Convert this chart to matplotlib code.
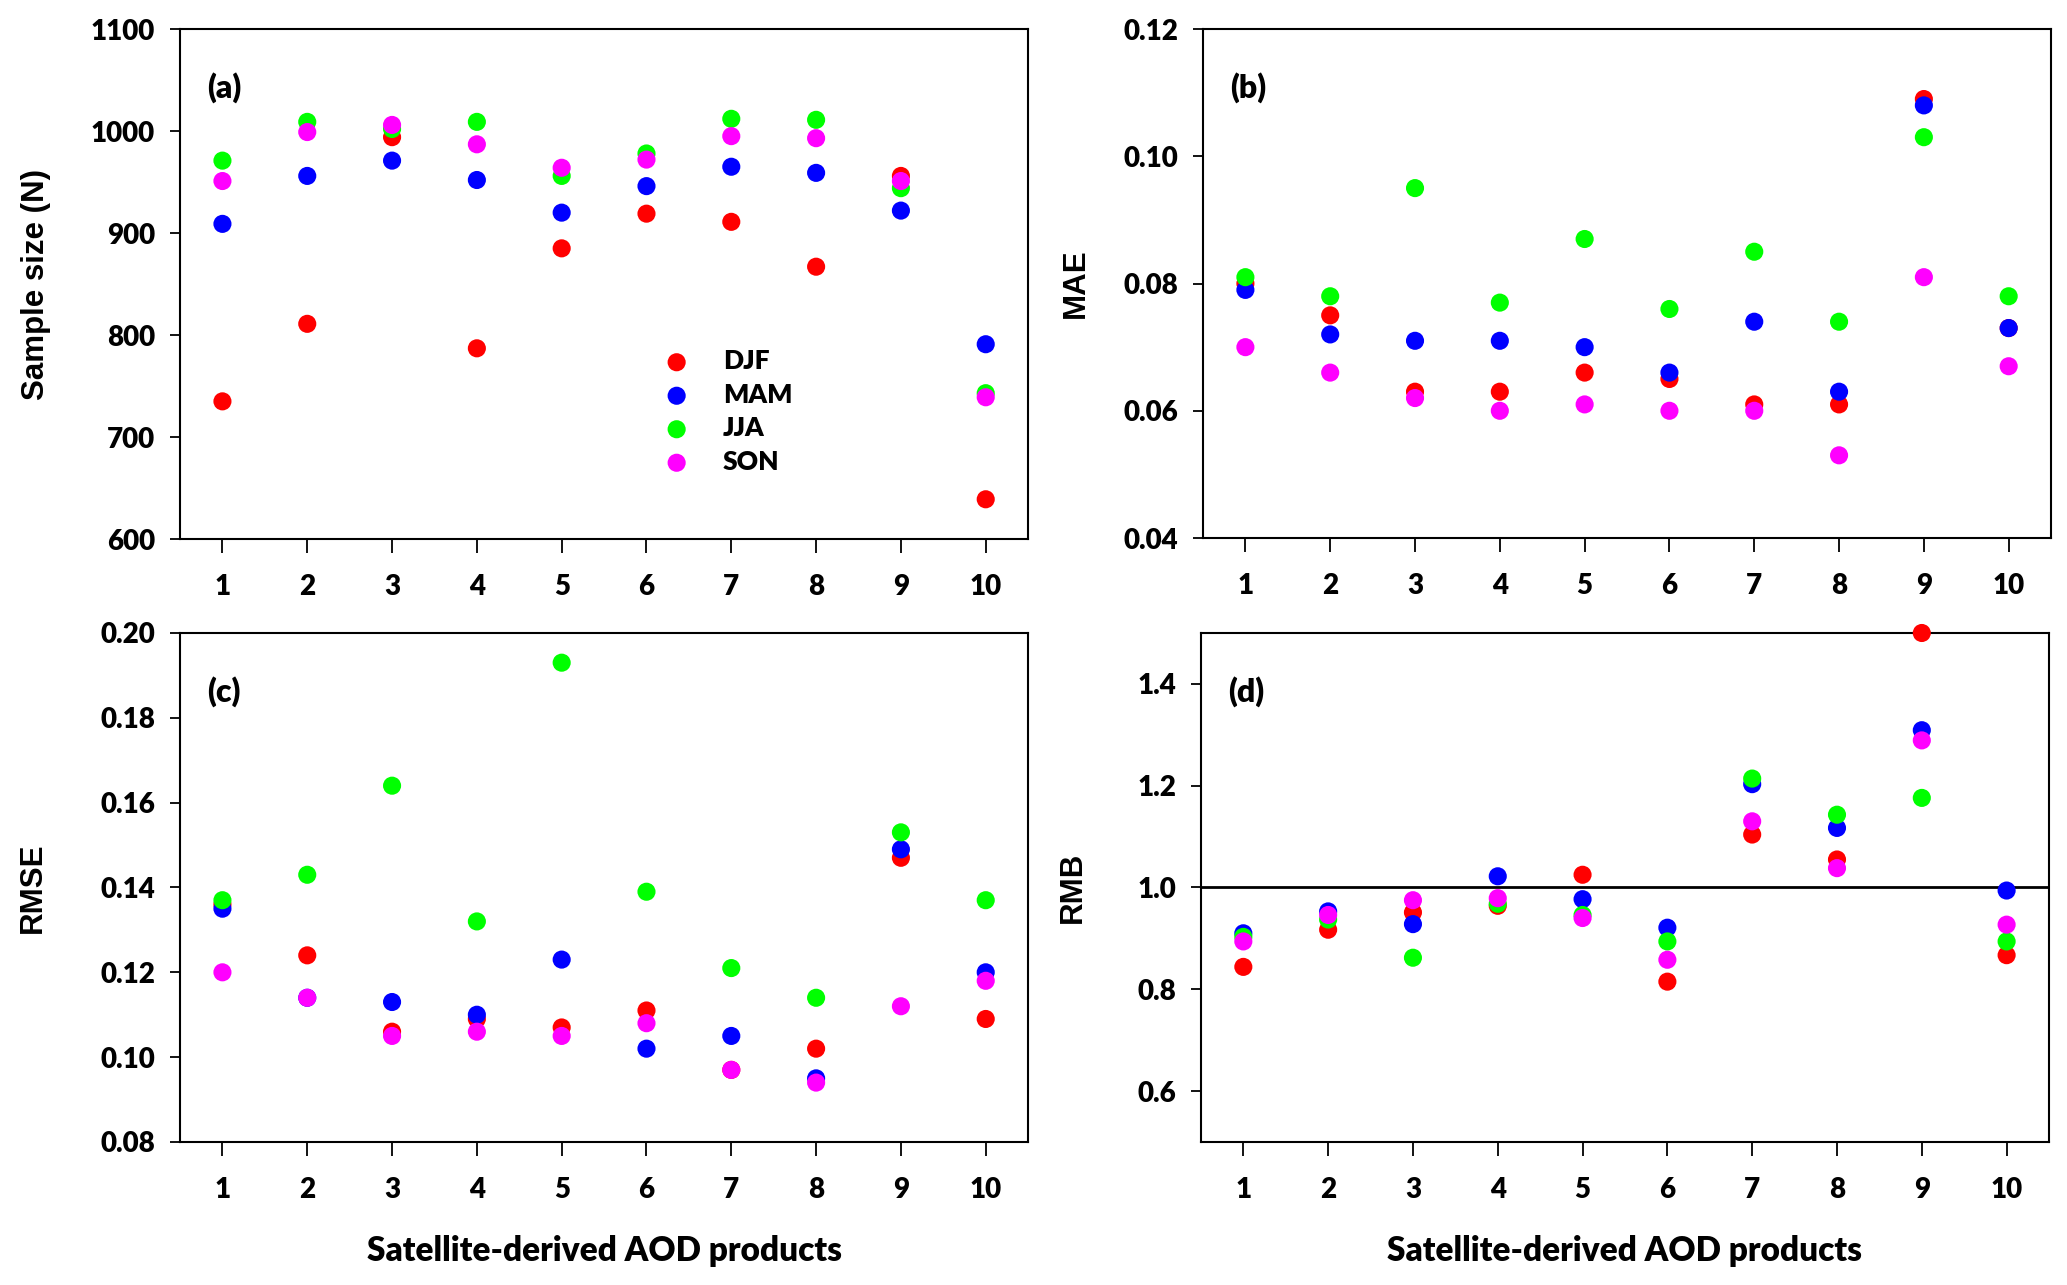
import matplotlib
matplotlib.use("Agg")
import matplotlib.pyplot as plt
import numpy as np

products = [1, 2, 3, 4, 5, 6, 7, 8, 9, 10]
seasons = ["DJF", "MAM", "JJA", "SON"]
season_colors = ["#FF0000", "#0000FF", "#00FF00", "#FF00FF"]

# (a) Sample size
n_djf = [735, 811, 994, 787, 885, 919, 911, 867, 956, 639]
n_mam = [909, 956, 971, 952, 920, 946, 965, 959, 922, 791]
n_jja = [971, 1009, 1002, 1009, 956, 978, 1012, 1011, 944, 743]
n_son = [951, 999, 1006, 987, 964, 972, 995, 993, 951, 739]

# (b) MAE
mae_djf = [0.080, 0.075, 0.063, 0.063, 0.066, 0.065, 0.061, 0.061, 0.109, 0.073]
mae_mam = [0.079, 0.072, 0.071, 0.071, 0.070, 0.066, 0.074, 0.063, 0.108, 0.073]
mae_jja = [0.081, 0.078, 0.095, 0.077, 0.087, 0.076, 0.085, 0.074, 0.103, 0.078]
mae_son = [0.070, 0.066, 0.062, 0.060, 0.061, 0.060, 0.060, 0.053, 0.081, 0.067]

# (c) RMSE
rmse_djf = [0.136, 0.124, 0.106, 0.109, 0.107, 0.111, 0.097, 0.102, 0.147, 0.109]
rmse_mam = [0.135, 0.114, 0.113, 0.110, 0.123, 0.102, 0.105, 0.095, 0.149, 0.120]
rmse_jja = [0.137, 0.143, 0.164, 0.132, 0.193, 0.139, 0.121, 0.114, 0.153, 0.137]
rmse_son = [0.120, 0.114, 0.105, 0.106, 0.105, 0.108, 0.097, 0.094, 0.112, 0.118]

# (d) RMB
rmb_djf = [0.844, 0.917, 0.951, 0.964, 1.025, 0.815, 1.104, 1.055, 1.500, 0.867]
rmb_mam = [0.910, 0.953, 0.928, 1.022, 0.977, 0.921, 1.203, 1.117, 1.309, 0.994]
rmb_jja = [0.903, 0.937, 0.862, 0.968, 0.946, 0.894, 1.214, 1.143, 1.176, 0.894]
rmb_son = [0.894, 0.946, 0.975, 0.979, 0.940, 0.858, 1.130, 1.038, 1.289, 0.927]

panels = [
    ("(a)", "Sample size (N)", [n_djf, n_mam, n_jja, n_son], (600, 1100), [600, 700, 800, 900, 1000, 1100], "{:.0f}"),
    ("(b)", "MAE", [mae_djf, mae_mam, mae_jja, mae_son], (0.04, 0.12), [0.04, 0.06, 0.08, 0.10, 0.12], "{:.2f}"),
    ("(c)", "RMSE", [rmse_djf, rmse_mam, rmse_jja, rmse_son], (0.08, 0.20), [0.08, 0.10, 0.12, 0.14, 0.16, 0.18, 0.20], "{:.2f}"),
    ("(d)", "RMB", [rmb_djf, rmb_mam, rmb_jja, rmb_son], (0.5, 1.5), [0.6, 0.8, 1.0, 1.2, 1.4], "{:.1f}"),
]

num_font = ["Lato", "DejaVu Sans"]
lab_font = ["Liberation Sans", "DejaVu Sans"]
num_weight = "heavy"

fig = plt.figure(figsize=(20.67, 12.85), dpi=100)
positions = [
    [0.0871, 0.5805, 0.4103, 0.3969],
    [0.5820, 0.5813, 0.4103, 0.3961],
    [0.0871, 0.1113, 0.4103, 0.3961],
    [0.5810, 0.1113, 0.4103, 0.3961],
]
ylabel_x = [-0.170, -0.150, -0.173, -0.151]

for i, (tag, ylabel, series, ylim, yticks, fmt) in enumerate(panels):
    ax = fig.add_axes(positions[i])
    for vals, name, col in zip(series, seasons, season_colors):
        ax.scatter(products, vals, s=170, color=col, edgecolors="none", label=name, zorder=3, clip_on=False)
    if tag == "(d)":
        ax.axhline(1.0, color="black", lw=2.0, zorder=2)
    ax.set_xlim(0.5, 10.5)
    ax.set_ylim(*ylim)
    ax.set_xticks(products)
    ax.set_xticklabels([str(p) for p in products], fontfamily=num_font, fontweight=num_weight, fontsize=20)
    ax.set_yticks(yticks)
    ax.set_yticklabels([fmt.format(v) for v in yticks], fontfamily=num_font, fontweight=num_weight, fontsize=20)
    ax.tick_params(axis="y", direction="out", length=7, width=1.3, pad=11)
    ax.tick_params(axis="x", direction="out", length=10, width=1.3, pad=15)
    for sp in ax.spines.values():
        sp.set_linewidth(1.5)
    ax.text(ylabel_x[i], 0.5, ylabel, transform=ax.transAxes, rotation=90, ha="center", va="center",
            fontfamily=lab_font, fontweight="bold", fontsize=22.5)
    ax.text(0.032, 0.886, tag, transform=ax.transAxes, fontfamily=num_font, fontweight=num_weight,
            fontsize=23, ha="left", va="center")
    if i >= 2:
        ax.set_xlabel("Satellite-derived AOD products", fontfamily=num_font, fontweight=num_weight,
                      fontsize=24, labelpad=23)
    if i == 0:
        ax.legend(loc="upper left", bbox_to_anchor=(0.542, 0.393), frameon=False,
                  prop={"family": num_font, "weight": num_weight, "size": 19},
                  handletextpad=0.75, labelspacing=0.36, markerscale=1.0, borderaxespad=0)

fig.savefig("out.png", dpi=100)
